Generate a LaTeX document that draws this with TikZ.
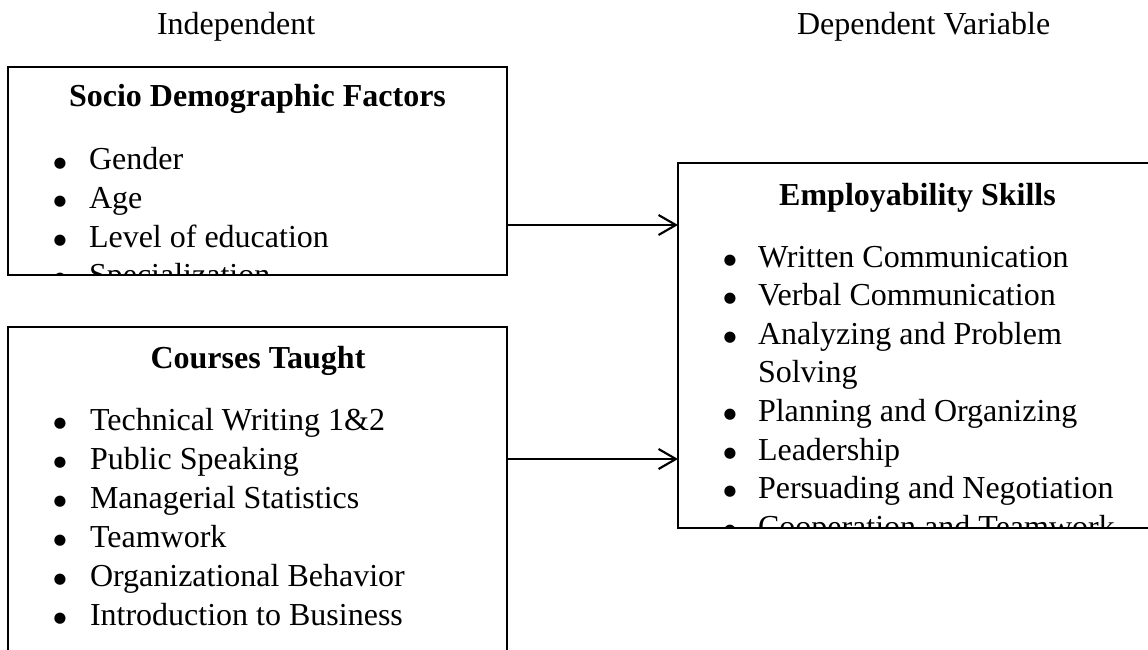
\documentclass[tikz,border=0pt]{standalone}
\usepackage{fontspec}
\setmainfont{Liberation Serif}
\newfontfamily\bulfont{DejaVu Sans}
\usetikzlibrary{arrows.meta,calc}
\newcommand{\bigbul}{\raisebox{2.2pt}{●}}
\begin{document}
\begin{tikzpicture}[x=0.75pt,y=-0.75pt,
  every node/.style={font=\fontsize{24}{28}\selectfont, inner sep=0pt, outer sep=0pt},
  frame/.style={draw, line width=1.2pt, rectangle},
  txt/.style={anchor=base west},
  ttl/.style={anchor=base, font=\fontsize{24}{28}\selectfont\bfseries},
  bul/.style={anchor=base, font=\bulfont\fontsize{11}{13}\selectfont},
  arr/.style={line width=1.6pt, -{Straight Barb[length=13pt,width=15pt]}}]
\useasboundingbox (0,0) rectangle (1148,649);
\clip (0,0) rectangle (1148,649);

% headers
\node[txt] (hind) at (157,35) {Independent};
\node[txt] (hdep) at (797,35) {Dependent Variable};

% boxes
\node[frame, minimum width=374.25pt, minimum height=156pt] (sdf) at (257.5,171) {};
\node[frame, minimum width=374.25pt, minimum height=279.75pt] (crs) at (257.5,513.5) {};
\node[frame, minimum width=369pt, minimum height=273.75pt] (emp) at (924,345.5) {};

% titles
\node[ttl] (tsdf) at (257.5,107) {Socio Demographic Factors};
\node[ttl] (tcrs) at (258,368) {Courses Taught};
\node[ttl] (temp) at (917.5,205) {Employability Skills};

% socio demographic items
\foreach \t [count=\i from 0] in {Gender, Age, Level of education} {
  \node[bul] (sb\i) at (60,{170+38.5*\i}) {\bigbul};
  \node[txt] (st\i) at (89,{170+38.5*\i}) {\t};
}
\begin{scope}
  \clip ($(sdf.north west)+(1,1)$) rectangle ($(sdf.south east)+(-1,-1)$);
  \node[bul] (sb3) at (60,285.5) {\bigbul};
  \node[txt] (st3) at (89,285.5) {Specialization};
\end{scope}

% courses items
\foreach \t [count=\i from 0] in {Technical Writing 1\&2, Public Speaking, Managerial Statistics, Teamwork, Organizational Behavior, Introduction to Business} {
  \node[bul] (cb\i) at (60,{430+39*\i}) {\bigbul};
  \node[txt] (ct\i) at (90,{430+39*\i}) {\t};
}

% employability items
\node[bul] (eb0) at (730,267) {\bigbul};
\node[txt] (et0) at (758,267) {Written Communication};
\node[bul] (eb1) at (730,305.6) {\bigbul};
\node[txt] (et1) at (758,305.6) {Verbal Communication};
\node[bul] (eb2) at (730,344.2) {\bigbul};
\node[txt] (et2) at (758,344.2) {Analyzing and Problem};
\node[txt] (et2b) at (758,382.8) {Solving};
\node[bul] (eb3) at (730,421.4) {\bigbul};
\node[txt] (et3) at (758,421.4) {Planning and Organizing};
\node[bul] (eb4) at (730,460) {\bigbul};
\node[txt] (et4) at (758,460) {Leadership};
\node[bul] (eb5) at (730,498.6) {\bigbul};
\node[txt] (et5) at (758,498.6) {Persuading and Negotiation};
\begin{scope}
  \clip ($(emp.north west)+(1,1)$) rectangle ($(emp.south east)+(-1,-1)$);
  \node[bul] (eb6) at (730,537.2) {\bigbul};
  \node[txt] (et6) at (758,537.2) {Cooperation and Teamwork};
\end{scope}

% arrows
\coordinate (a1) at (0,225);
\coordinate (a2) at (0,459);
\draw[arr] (sdf.east |- a1) -- (emp.west |- a1);
\draw[arr] (crs.east |- a2) -- (emp.west |- a2);
\end{tikzpicture}
\end{document}
